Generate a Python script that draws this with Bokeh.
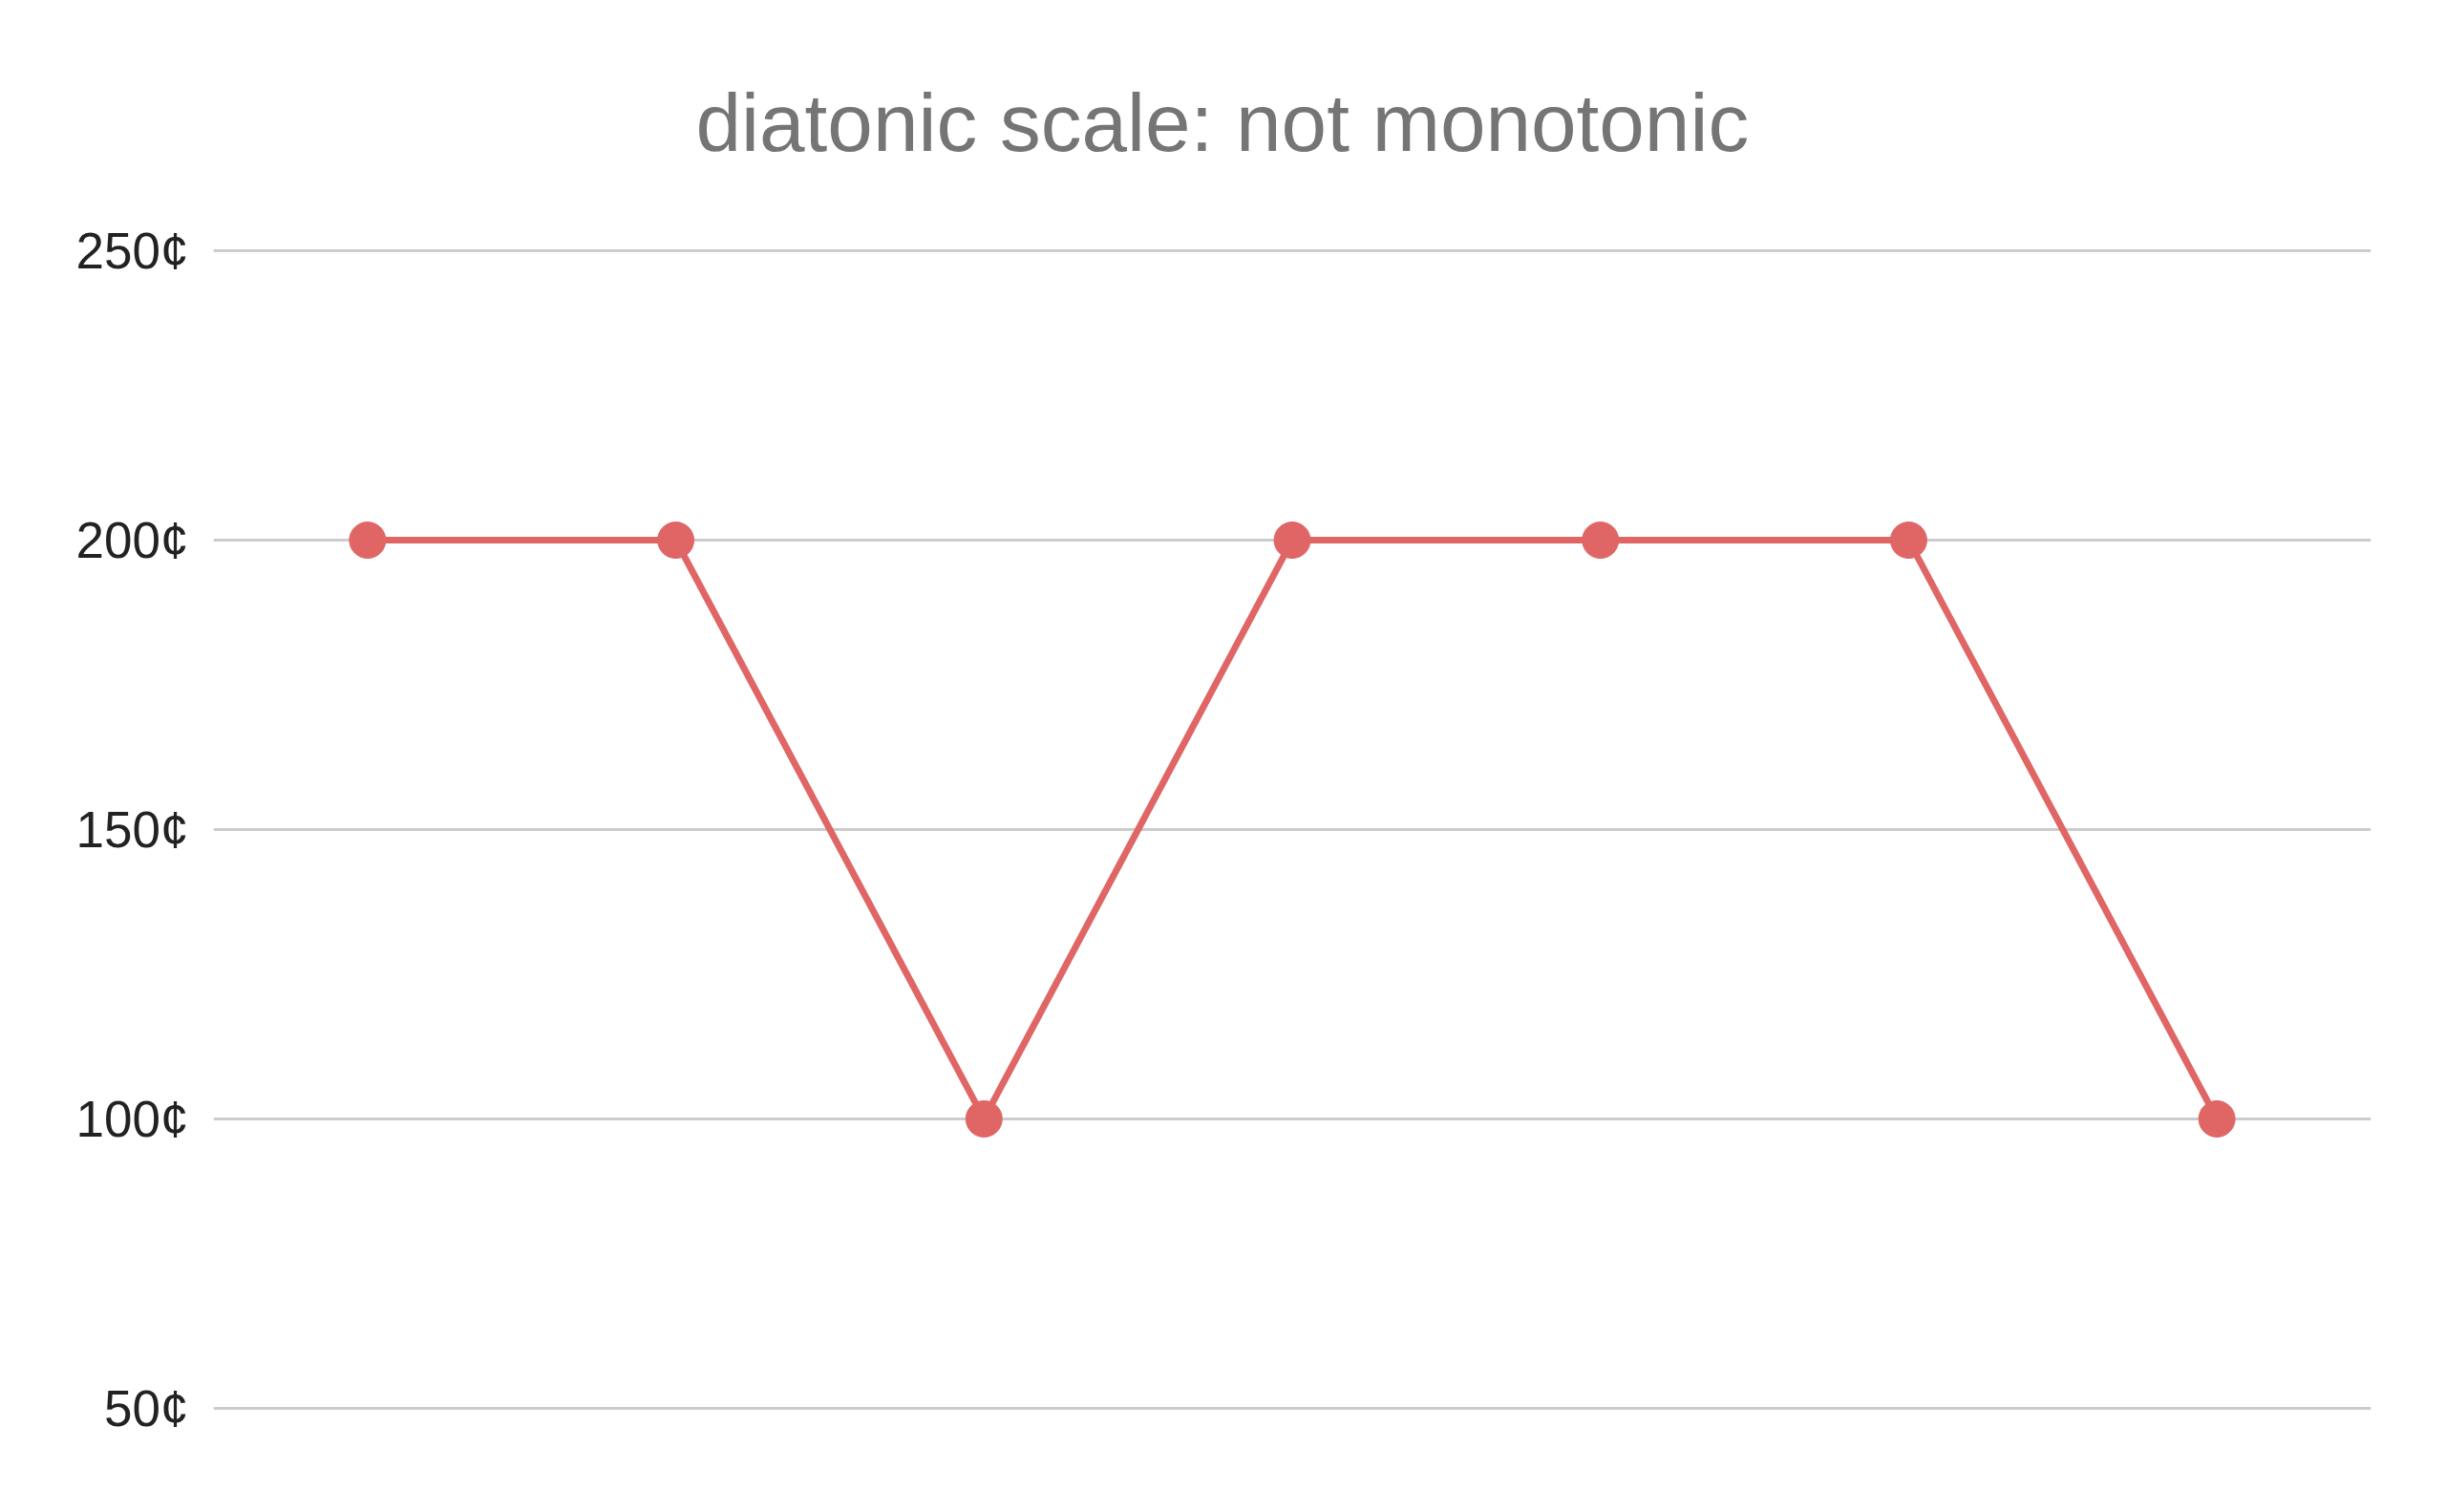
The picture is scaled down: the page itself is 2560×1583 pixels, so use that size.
from bokeh.plotting import figure
from bokeh.models import Range1d, FixedTicker, PrintfTickFormatter
from bokeh.embed import file_html
from bokeh.resources import INLINE

# data
steps = [1, 2, 3, 4, 5, 6, 7]
cents = [200, 200, 100, 200, 200, 200, 100]
y_ticks = [50, 100, 150, 200, 250]
title_text = "diatonic scale: not monotonic"

xs = [s - 1 for s in steps]

p = figure(width=2544, height=1567, output_backend="svg", toolbar_location=None,
           x_range=Range1d(-0.5, len(steps) - 0.5), y_range=Range1d(48, 252),
           min_border_left=223, min_border_right=62, min_border_top=250, min_border_bottom=81)

p.title.text = title_text
p.title.align = "left"
p.title.offset = 505
p.title.text_font = "Liberation Sans"
p.title.text_font_size = "85.5px"
p.title.text_font_style = "normal"
p.title.text_color = "#757575"
p.title.standoff = 150

p.outline_line_color = None
p.background_fill_color = "white"
p.border_fill_color = "white"

p.xaxis.visible = False
p.xgrid.grid_line_color = None

p.yaxis.ticker = FixedTicker(ticks=y_ticks)
p.yaxis.formatter = PrintfTickFormatter(format="%d¢")
p.yaxis.axis_line_color = None
p.yaxis.major_tick_line_color = None
p.yaxis.minor_tick_line_color = None
p.yaxis.major_label_text_font = "Liberation Sans"
p.yaxis.major_label_text_font_size = "53px"
p.yaxis.major_label_text_color = "#222222"
p.yaxis.major_label_standoff = 20

p.ygrid.ticker = FixedTicker(ticks=y_ticks)
p.ygrid.grid_line_color = "#cccccc"
p.ygrid.grid_line_width = 3

p.line(xs, cents, line_color="#e06666", line_width=7)
p.scatter(xs, cents, size=38, fill_color="#e06666", line_color="#e06666")

open("out.html", "w").write(file_html(p, INLINE))
